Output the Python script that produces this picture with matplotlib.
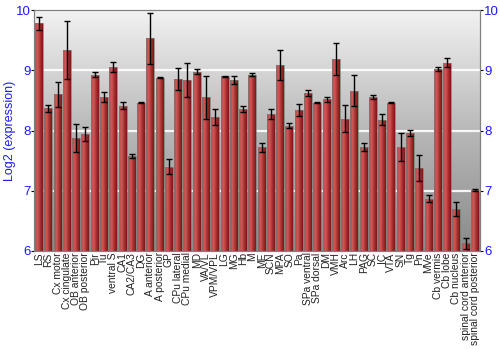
import numpy as np
import matplotlib
matplotlib.use("Agg")
import matplotlib.pyplot as plt
from matplotlib.colors import LinearSegmentedColormap

plt.rcParams['font.family'] = ['Liberation Sans', 'DejaVu Sans']

regions = ['LS', 'RS', 'Cx motor', 'Cx cingulate', 'OB anterior', 'OB posterior',
           'Pir', 'Tu', 'ventral S', 'CA1', 'CA2/CA3', 'DG', 'A anterior',
           'A posterior', 'GP', 'CPu lateral', 'CPu medial', 'MD', 'VA/VL',
           'VPM/VPL', 'LG', 'MG', 'Hb', 'M', 'ME', 'SCN', 'MPA', 'SO', 'Pa',
           'SPa ventral', 'SPa dorsal', 'DM', 'VMH', 'Arc', 'LH', 'PAG', 'SC',
           'IC', 'VTA', 'SN', 'Tg', 'Pn', 'MVe', 'Cb vermis', 'Cb lobe',
           'Cb nucleus', 'spinal cord anterior', 'spinal cord posterior']
expr = [9.78, 8.37, 8.60, 9.34, 7.88, 7.94, 8.93, 8.56, 9.06, 8.41, 7.58, 8.46,
        9.53, 8.88, 7.40, 8.86, 8.84, 8.98, 8.55, 8.23, 8.90, 8.84, 8.35, 8.93,
        7.72, 8.27, 9.09, 8.08, 8.34, 8.62, 8.46, 8.52, 9.19, 8.20, 8.66, 7.73,
        8.56, 8.18, 8.46, 7.73, 7.96, 7.38, 6.87, 9.02, 9.13, 6.70, 6.13, 7.01]
err = [0.11, 0.06, 0.21, 0.48, 0.23, 0.12, 0.04, 0.08, 0.08, 0.06, 0.03, 0.01,
       0.43, 0.01, 0.12, 0.18, 0.28, 0.04, 0.35, 0.13, 0.01, 0.07, 0.05, 0.03,
       0.08, 0.08, 0.25, 0.04, 0.10, 0.05, 0.01, 0.04, 0.26, 0.23, 0.26, 0.07,
       0.03, 0.09, 0.01, 0.23, 0.05, 0.22, 0.06, 0.03, 0.08, 0.12, 0.09, 0.02]
yticks = [6, 7, 8, 9, 10]

blue = '#1a1aff'
fig = plt.figure(figsize=(5, 3.5), dpi=100)
ax = fig.add_axes([0.068, 0.283, 0.892, 0.688])

x = np.arange(len(regions))
ax.set_xlim(-0.55, len(regions) - 0.45)
ax.set_ylim(6, 10)

# background gradient
bg = LinearSegmentedColormap.from_list('bg', ['#8a8a8a', '#b8b8b8', '#f2f2f2'])
grad = np.linspace(0, 1, 256).reshape(-1, 1)
ax.imshow(grad, cmap=bg, aspect='auto', origin='lower',
          extent=[-0.55, len(regions) - 0.45, 6, 10], zorder=0)

for yv in yticks[1:-1]:
    ax.axhline(yv, color='white', lw=1.6, alpha=0.9, zorder=1)

# bars with horizontal shading
barcm = LinearSegmentedColormap.from_list('bar', ['#b84848', '#d05858', '#a83030', '#7a1818'])
hgrad = np.linspace(0, 1, 64).reshape(1, -1)
bars = ax.bar(x, np.array(expr) - 6, bottom=6, width=0.86,
              color='none', edgecolor='#7a7a7a', lw=0.5, zorder=3)
for b in bars:
    im = ax.imshow(hgrad, cmap=barcm, aspect='auto',
                   extent=[b.get_x(), b.get_x() + b.get_width(), 6, 6 + b.get_height()],
                   zorder=2)
    im.set_clip_path(b)
ax.errorbar(x, expr, yerr=err, fmt='none', ecolor='black', elinewidth=1,
            capsize=2, capthick=1, zorder=4)

ax.set_xticks(x)
ax.set_xticklabels(regions, rotation=90, fontsize=7.4, color='#222222')
ax.tick_params(axis='x', length=0, pad=1)
ax.set_yticks(yticks)
ax.tick_params(axis='y', labelsize=9.5, labelcolor=blue, length=2, pad=0.5, direction='out')
ax.set_ylabel('Log2 (expression)', color=blue, fontsize=9)
ax.yaxis.set_label_coords(-0.04, 0.5)

ax2 = ax.twinx()
ax2.set_ylim(6, 10)
ax2.set_yticks(yticks)
ax2.tick_params(axis='y', labelsize=9.5, labelcolor=blue, length=2, pad=1, direction='out')

for a in (ax, ax2):
    for s in a.spines.values():
        s.set_color('#808080')

fig.savefig('out.png', dpi=100)
